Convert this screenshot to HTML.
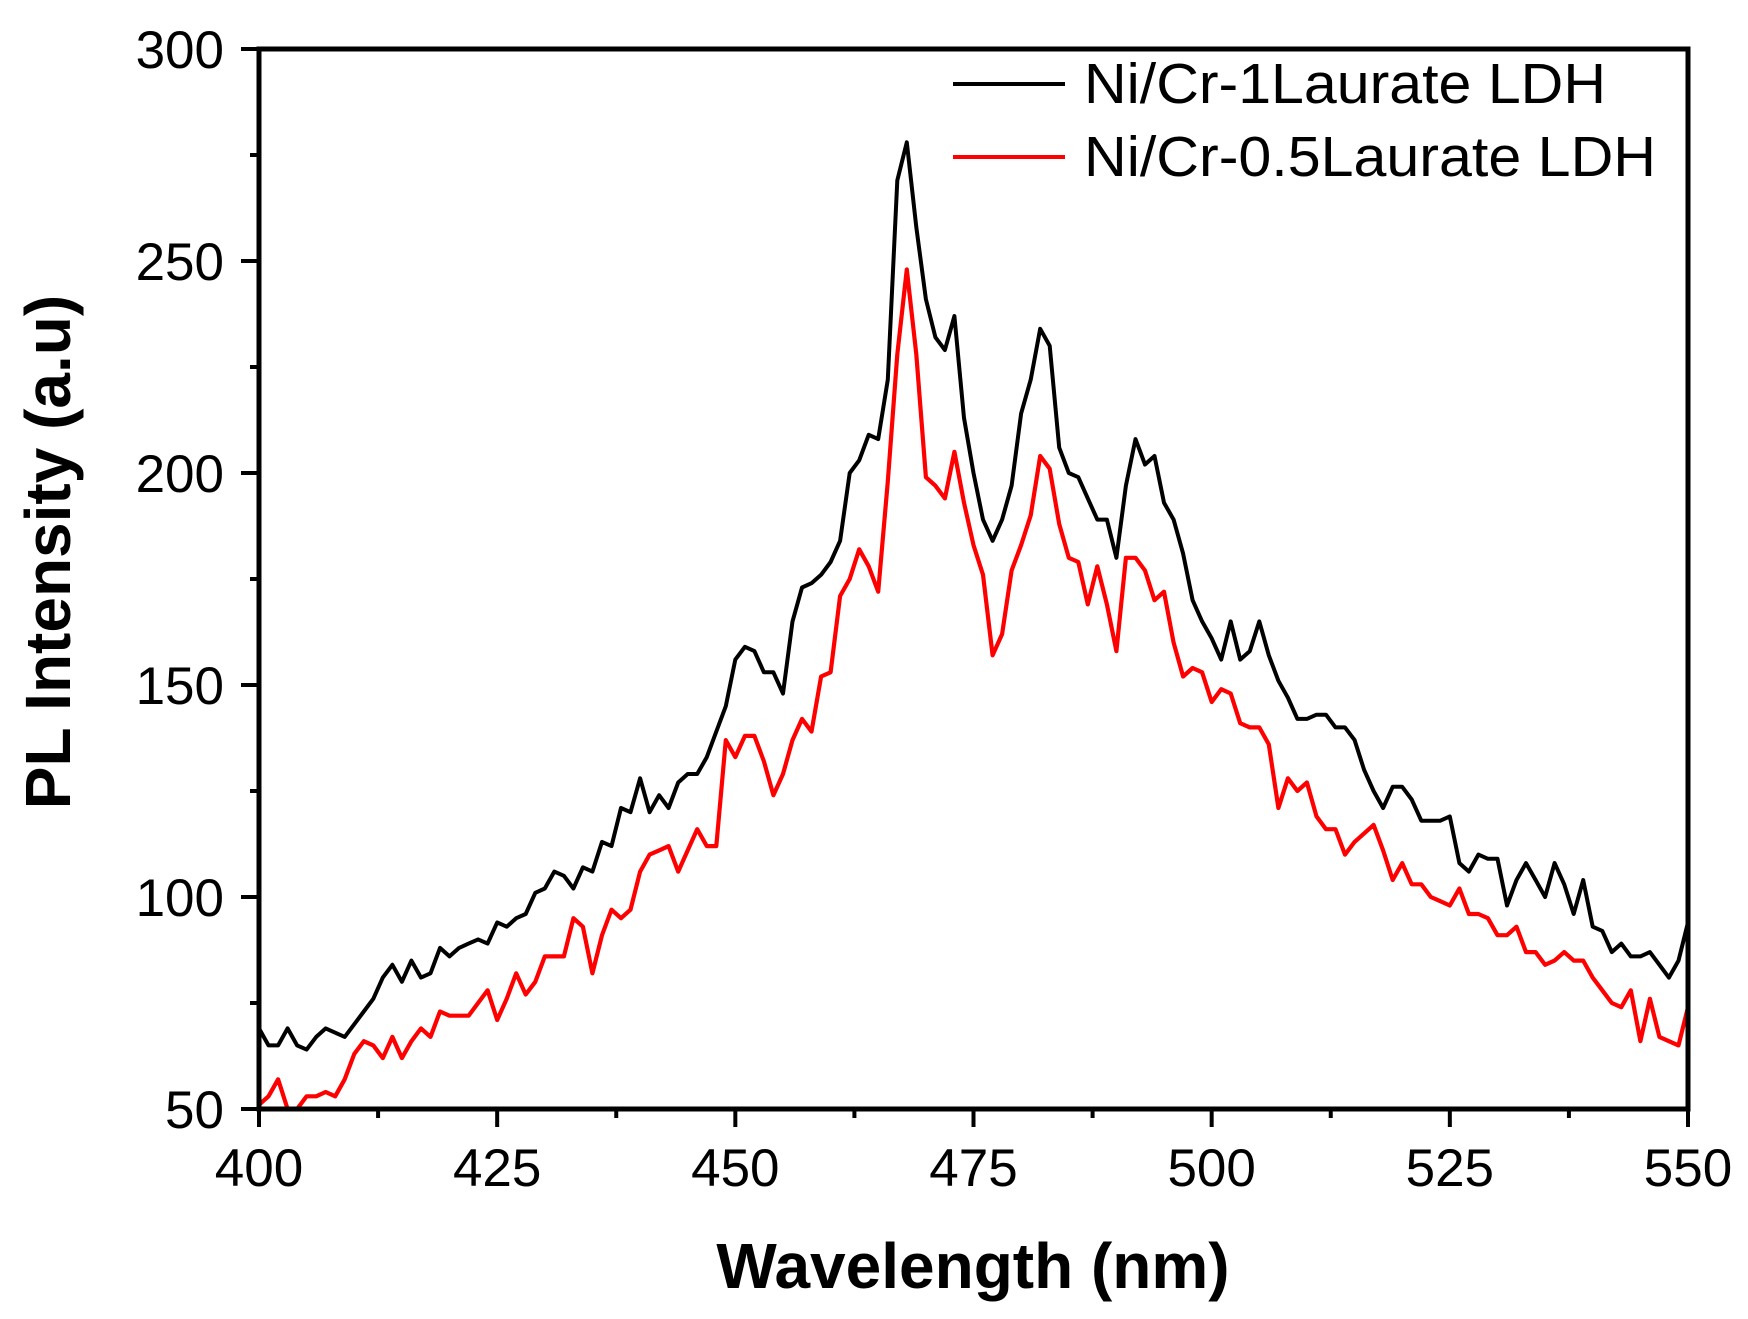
<!DOCTYPE html>
<html><head><meta charset="utf-8"><style>
html,body{margin:0;padding:0;background:#fff;}
svg{display:block;font-family:"Liberation Sans",Arial,sans-serif;}
</style></head><body>
<svg id="s" width="1748" height="1319" xmlns="http://www.w3.org/2000/svg">
<g id="ticks" stroke="#000" stroke-width="4"></g>
<g id="labels" font-size="53" fill="#000"></g>
<polyline id="b" fill="none" stroke="#000" stroke-width="4" stroke-linejoin="round"/>
<polyline id="r" fill="none" stroke="#ff0000" stroke-width="4.2" stroke-linejoin="round"/>
<rect x="259" y="49" width="1429" height="1060" fill="none" stroke="#000" stroke-width="5"/>
<line x1="953" y1="84" x2="1065" y2="84" stroke="#000" stroke-width="4"/>
<line x1="953" y1="157" x2="1065" y2="157" stroke="#ff0000" stroke-width="4"/>
<text x="1084" y="103" font-size="57" textLength="522" lengthAdjust="spacingAndGlyphs">Ni/Cr-1Laurate LDH</text>
<text x="1084" y="176" font-size="57" textLength="572" lengthAdjust="spacingAndGlyphs">Ni/Cr-0.5Laurate LDH</text>
<text x="973" y="1288" font-size="64" font-weight="bold" text-anchor="middle">Wavelength (nm)</text>
<text transform="translate(70,552) rotate(-90)" font-size="64" font-weight="bold" text-anchor="middle">PL Intensity (a.u)</text>
</svg>
<script>
var X=function(n){return 259+(n-400)*1429/150;},Y=function(v){return 1109-(v-50)*1060/250;};
var blk=[69,65,65,69,65,64,67,69,68,67,70,73,76,81,84,80,85,81,82,88,86,88,89,90,89,94,93,95,96,101,102,106,105,102,107,106,113,112,121,120,128,120,124,121,127,129,129,133,139,145,156,159,158,153,153,148,165,173,174,176,179,184,200,203,209,208,222,269,278,258,241,232,229,237,213,200,189,184,189,197,214,222,234,230,206,200,199,194,189,189,180,197,208,202,204,193,189,181,170,165,161,156,165,156,158,165,157,151,147,142,142,143,143,140,140,137,130,125,121,126,126,123,118,118,118,119,108,106,110,109,109,98,104,108,104,100,108,103,96,104,93,92,87,89,86,86,87,84,81,85,94];
var red=[51,53,57,50,50,53,53,54,53,57,63,66,65,62,67,62,66,69,67,73,72,72,72,75,78,71,76,82,77,80,86,86,86,95,93,82,91,97,95,97,106,110,111,112,106,111,116,112,112,137,133,138,138,132,124,129,137,142,139,152,153,171,175,182,178,172,198,228,248,228,199,197,194,205,193,183,176,157,162,177,183,190,204,201,188,180,179,169,178,169,158,180,180,177,170,172,160,152,154,153,146,149,148,141,140,140,136,121,128,125,127,119,116,116,110,113,115,117,111,104,108,103,103,100,99,98,102,96,96,95,91,91,93,87,87,84,85,87,85,85,81,78,75,74,78,66,76,67,66,65,74];
function pts(a){return a.map(function(v,i){return X(400+i).toFixed(1)+','+Y(Math.max(v,50)).toFixed(1);}).join(' ');}
document.getElementById('b').setAttribute('points',pts(blk));
document.getElementById('r').setAttribute('points',pts(red));
var t='',l='';
for(var n=400;n<=550;n+=12.5){var maj=(n%25===0);var x=X(n);t+='<line x1="'+x+'" y1="1109" x2="'+x+'" y2="'+(1109+(maj?18:9))+'"/>';if(maj)l+='<text x="'+x+'" y="1186" text-anchor="middle">'+n+'</text>';}
for(var v=50;v<=300;v+=25){var maj=(v%50===0);var y=Y(v);t+='<line x1="259" y1="'+y+'" x2="'+(259-(maj?18:9))+'" y2="'+y+'"/>';if(maj)l+='<text x="224" y="'+(y+19)+'" text-anchor="end">'+v+'</text>';}
document.getElementById('ticks').innerHTML=t;document.getElementById('labels').innerHTML=l;
</script>
</body></html>
